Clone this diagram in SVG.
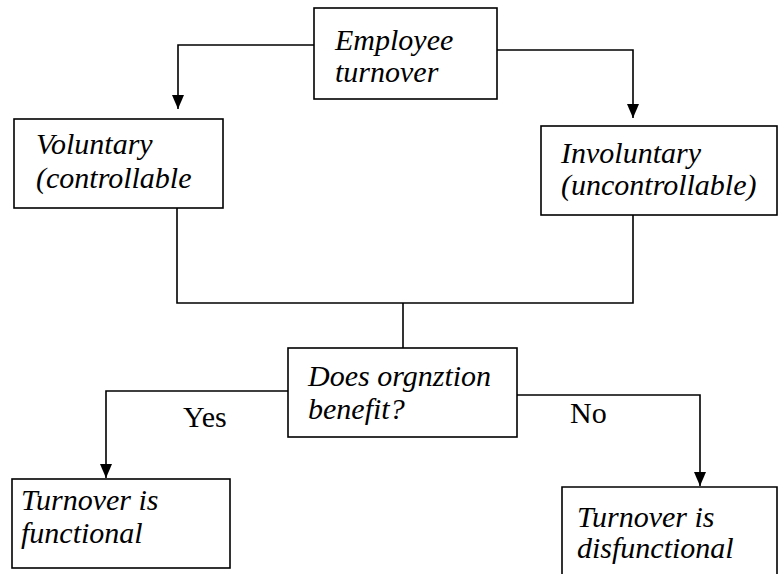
<svg xmlns="http://www.w3.org/2000/svg" width="780" height="574" viewBox="0 0 780 574">
<style>
.box{fill:#fff;stroke:#000;stroke-width:1.6}
.ln{fill:none;stroke:#000;stroke-width:1.6}
.t{font-family:"Liberation Serif","Times New Roman",serif;font-style:italic;font-size:30px;fill:#000}
.lbl{font-family:"Liberation Serif","Times New Roman",serif;font-size:30px;fill:#000}
</style>
<defs>
<marker id="arr" markerUnits="userSpaceOnUse" markerWidth="14" markerHeight="14" refX="14" refY="6" orient="auto">
<path d="M0,0 L14,6 L0,12 z" fill="#000"/>
</marker>
</defs>
<rect width="780" height="574" fill="#fff"/>
<g id="connectors">
<path class="ln" d="M314,45 H178 V109" marker-end="url(#arr)"/>
<path class="ln" d="M497,50 H633 V118" marker-end="url(#arr)"/>
<path class="ln" d="M177,208 V303 H633 V215"/>
<path class="ln" d="M403,303 V348"/>
<path class="ln" d="M288,391 H106 V478" marker-end="url(#arr)"/>
<path class="ln" d="M517,395 H700 V486" marker-end="url(#arr)"/>
<text class="lbl" x="183" y="427">Yes</text>
<text class="lbl" x="570" y="423">No</text>
</g>
<g id="employee">
<rect class="box" x="314" y="8" width="183" height="91"/>
<text class="t" x="335" y="50">Employee</text>
<text class="t" x="335" y="82">turnover</text>
</g>
<g id="voluntary">
<rect class="box" x="14" y="119" width="209" height="89"/>
<text class="t" x="36" y="154">Voluntary</text>
<text class="t" x="36" y="188">(controllable</text>
</g>
<g id="involuntary">
<rect class="box" x="541" y="126" width="236" height="89"/>
<text class="t" x="561" y="163">Involuntary</text>
<text class="t" x="561" y="195">(uncontrollable)</text>
</g>
<g id="decision">
<rect class="box" x="288" y="348" width="229" height="89"/>
<text class="t" x="308" y="386">Does orgnztion</text>
<text class="t" x="308" y="419">benefit?</text>
</g>
<g id="functional">
<rect class="box" x="12" y="479" width="218" height="89"/>
<text class="t" x="21" y="510">Turnover is</text>
<text class="t" x="21" y="543">functional</text>
</g>
<g id="disfunctional">
<path class="box" d="M562,576 V487 H777 V576"/>
<text class="t" x="577" y="527">Turnover is</text>
<text class="t" x="577" y="558">disfunctional</text>
</g>
</svg>
